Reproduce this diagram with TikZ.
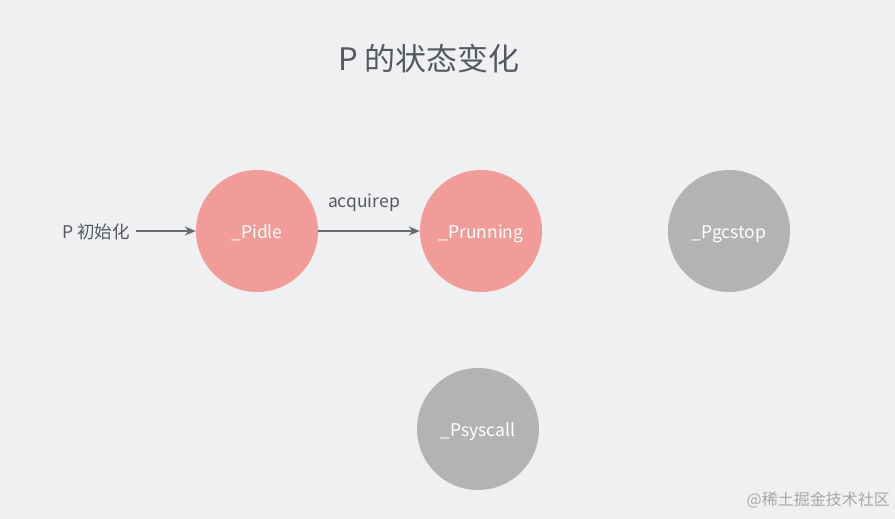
\documentclass[tikz,border=0pt]{standalone}
\usepackage{fontspec}
\setmainfont{Noto Sans CJK SC}
\usetikzlibrary{arrows.meta}
\definecolor{bg}{HTML}{EFF0F2}
\definecolor{pinkc}{HTML}{F19C99}
\definecolor{grayc}{HTML}{B3B3B3}
\definecolor{txt}{HTML}{55595F}
\definecolor{arr}{HTML}{666A70}
\definecolor{wm}{HTML}{A8A8A8}
\newcommand{\lowr}[1]{\raisebox{-7pt}[0pt][0pt]{#1}}
\begin{document}
\begin{tikzpicture}[x=1pt,y=-1pt,
  state/.style={circle,minimum size=122pt,inner sep=0pt,text=white,font=\fontsize{17.5}{20}\selectfont},
  pstate/.style={state,fill=pinkc},
  gstate/.style={state,fill=grayc},
  lbl/.style={text=txt,font=\fontsize{17.5}{20}\selectfont,inner sep=0pt},
  conn/.style={draw=arr,line width=1.6pt,-{Stealth[length=11pt,width=9pt]}}]
\fill[bg] (0,0) rectangle (895,519);
\useasboundingbox (0,0) rectangle (895,519);
\node[text=txt,font=\fontsize{31}{36}\selectfont] (title) at (429,59) {P 的状态变化};
\node[pstate] (idle) at (257,231) {\lowr{\_Pidle}};
\node[pstate] (run) at (481,231) {\lowr{\_Prunning}};
\node[gstate] (gc) at (729,231) {\lowr{\_Pgcstop}};
\node[gstate] (sys) at (478,429) {\lowr{\_Psyscall}};
\node[lbl,anchor=west] (init) at (62,232) {P 初始化};
\draw[conn] (init.east) ++(6,-1) coordinate (s) -- (idle.west);
\draw[conn] (idle) -- (run);
\node[lbl] (acq) at (364,203) {acquirep};
\node[text=wm,font=\fontsize{16}{18}\selectfont,anchor=east,inner sep=0pt] (wmk) at (890,500) {@稀土掘金技术社区};
\end{tikzpicture}
\end{document}
